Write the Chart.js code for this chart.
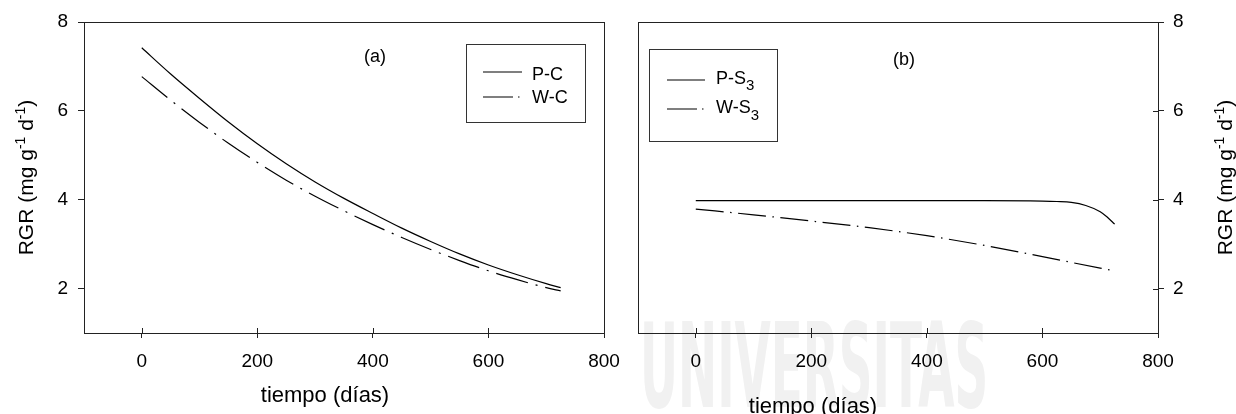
<!DOCTYPE html>
<html>
<head>
<meta charset="utf-8">
<script src="https://cdn.jsdelivr.net/npm/chart.js@4/dist/chart.umd.min.js"></script>
<style>
  html, body { margin: 0; padding: 0; background: #fff; }
  #wrap { position: relative; width: 1236px; height: 414px; overflow: hidden; }
  #mark { position: absolute; left: 640px; top: 308px; font: bold 117px 'DejaVu Sans', sans-serif;
          color: #f1f1f1; transform: scaleX(0.4); transform-origin: 0 0; white-space: nowrap; line-height: 1; }
  canvas { position: absolute; top: 0; }
  #cA { left: 0; }
  #cB { left: 618px; }
</style>
</head>
<body>
<div id="wrap">
  <div id="mark">UNIVERSITAS</div>
  <canvas id="cA" width="640" height="414"></canvas>
  <canvas id="cB" width="618" height="414"></canvas>
</div>
<script>
// Panel (a): control treatments
const daysA = [0, 50, 100, 150, 200, 250, 300, 350, 400, 450, 500, 550, 600, 650, 700, 725];
const rgrPC = [7.42, 6.83, 6.28, 5.75, 5.26, 4.81, 4.40, 4.03, 3.69, 3.36, 3.06, 2.78, 2.53, 2.31, 2.11, 2.02];
const rgrWC = [6.77, 6.24, 5.74, 5.27, 4.84, 4.44, 4.08, 3.75, 3.44, 3.15, 2.88, 2.63, 2.40, 2.20, 2.02, 1.95];

// Panel (b): S3 treatments
const daysPS3 = [0, 100, 200, 300, 400, 500, 600, 625, 650, 675, 700, 712, 725];
const rgrPS3  = [3.98, 3.98, 3.98, 3.98, 3.98, 3.98, 3.97, 3.96, 3.94, 3.87, 3.73, 3.61, 3.45];
const daysWS3 = [0, 100, 200, 300, 400, 500, 600, 700, 725];
const rgrWS3  = [3.79, 3.66, 3.52, 3.37, 3.19, 2.97, 2.72, 2.46, 2.40];

const xTickVals = [0, 200, 400, 600, 800];
const yTickVals = [2, 4, 6, 8];

const FONT = "Arial, 'Liberation Sans', sans-serif";
const AXIS = '#222';
const INK = '#000';
const DASH_A = [33, 8, 2, 8];
const DASH_B = [28, 6.5, 1.5, 6.5];

const pts = (xs, ys) => xs.map((x, i) => ({ x, y: ys[i] }));

function drawRuns(ctx, runs, x0, baseY, center) {
  let w = 0;
  runs.forEach(r => { ctx.font = r.size + 'px ' + FONT; r.w = ctx.measureText(r.t).width; w += r.w; });
  let x = center ? x0 - w / 2 : x0;
  ctx.textAlign = 'left';
  ctx.textBaseline = 'alphabetic';
  runs.forEach(r => { ctx.font = r.size + 'px ' + FONT; ctx.fillText(r.t, x, baseY + (r.dy || 0)); x += r.w; });
}

const yTitleRuns = () => [
  { t: 'RGR (mg g', size: 21 }, { t: '-1', size: 14, dy: -8 },
  { t: ' d', size: 21 }, { t: '-1', size: 14, dy: -8 }, { t: ')', size: 21 }
];

// Frame, inner tick halves, axis titles, panel tag and legend box
const panelDeco = {
  id: 'panelDeco',
  afterDraw(chart, args, o) {
    const ctx = chart.ctx, a = chart.chartArea;
    ctx.save();
    ctx.strokeStyle = AXIS;
    ctx.lineWidth = 1;
    ctx.strokeRect(Math.round(a.left) + 0.5, Math.round(a.top) + 0.5,
                   Math.round(a.right - a.left), Math.round(a.bottom - a.top));
    ctx.beginPath();
    const xs = chart.scales.x, ys = chart.scales.y;
    xs.ticks.forEach(t => {
      const px = Math.round(xs.getPixelForValue(t.value)) + 0.5;
      ctx.moveTo(px, a.bottom); ctx.lineTo(px, a.bottom - 5);
    });
    if (o.innerY) {
      ys.ticks.forEach(t => {
        const py = Math.round(ys.getPixelForValue(t.value)) + 0.5;
        ctx.moveTo(a.right, py); ctx.lineTo(a.right - 5, py);
      });
    }
    ctx.stroke();

    ctx.fillStyle = INK;
    drawRuns(ctx, [{ t: 'tiempo (días)', size: 22 }], o.xTitle.x, o.xTitle.y, true);
    ctx.save();
    ctx.translate(o.yTitle.x, o.yTitle.y);
    ctx.rotate(-Math.PI / 2);
    drawRuns(ctx, yTitleRuns(), 0, 0, true);
    ctx.restore();
    drawRuns(ctx, [{ t: o.tag.text, size: 18 }], o.tag.x, o.tag.y, true);

    const L = o.legend;
    ctx.strokeStyle = '#333';
    ctx.strokeRect(L.l + 0.5, L.t + 0.5, L.r - L.l, L.b - L.t);
    chart.data.datasets.forEach((ds, i) => {
      const e = L.items[i];
      ctx.strokeStyle = INK;
      ctx.lineWidth = 1.2;
      ctx.setLineDash(ds.legendDash || []);
      ctx.beginPath();
      ctx.moveTo(L.x0, e.ly); ctx.lineTo(L.x1, e.ly);
      ctx.stroke();
      ctx.setLineDash([]);
      ctx.fillStyle = INK;
      drawRuns(ctx, e.runs, L.tx, e.by, false);
    });
    ctx.restore();
  }
};

function makeChart(id, datasets, side, decoOpts) {
  const yRight = side === 'right';
  return new Chart(document.getElementById(id), {
    type: 'line',
    data: { datasets },
    options: {
      responsive: false,
      animation: false,
      events: [],
      layout: { padding: yRight ? { left: 20, top: 22, right: 0, bottom: 0 }
                               : { left: 0, top: 22, right: 36, bottom: 0 } },
      elements: { point: { radius: 0 }, line: { borderWidth: 1.2, borderColor: INK, cubicInterpolationMode: 'monotone' } },
      plugins: { legend: { display: false }, tooltip: { enabled: false }, panelDeco: decoOpts },
      scales: {
        x: {
          type: 'linear', position: 'bottom', min: -100, max: 800,
          afterBuildTicks: s => { s.ticks = xTickVals.map(v => ({ value: v })); },
          afterFit: s => { s.height = 81; s.paddingLeft = 0; s.paddingRight = 0; },
          ticks: { color: INK, font: { family: FONT, size: 19 }, padding: 12, maxRotation: 0 },
          grid: { drawOnChartArea: false, drawTicks: true, tickLength: 5, color: AXIS },
          border: { color: AXIS, width: 1 }
        },
        y: {
          type: 'linear', position: side, min: 1, max: 8,
          afterBuildTicks: s => { s.ticks = yTickVals.map(v => ({ value: v })); },
          afterFit: s => { s.width = yRight ? 78 : 84; s.paddingTop = 0; s.paddingBottom = 0; },
          ticks: { color: INK, font: { family: FONT, size: 19 }, padding: yRight ? 9 : 10 },
          grid: { drawOnChartArea: false, drawTicks: true, tickLength: 6, color: AXIS },
          border: { color: AXIS, width: 1 }
        }
      }
    },
    plugins: [panelDeco]
  });
}

makeChart('cA', [
  { label: 'P-C', data: pts(daysA, rgrPC), borderColor: INK, legendDash: [] },
  { label: 'W-C', data: pts(daysA, rgrWC), borderColor: INK, borderDash: DASH_A, legendDash: [30, 5, 1.5, 5] }
], 'left', {
  innerY: false,
  xTitle: { x: 325, y: 402 },
  yTitle: { x: 33, y: 177.5 },
  tag: { text: '(a)', x: 375, y: 62 },
  legend: {
    l: 466, t: 44, r: 585, b: 122, x0: 483, x1: 522, tx: 532,
    items: [
      { ly: 72, by: 80, runs: [{ t: 'P-C', size: 18 }] },
      { ly: 97, by: 103, runs: [{ t: 'W-C', size: 18 }] }
    ]
  }
});

makeChart('cB', [
  { label: 'P-S3', data: pts(daysPS3, rgrPS3), borderColor: INK, legendDash: [] },
  { label: 'W-S3', data: pts(daysWS3, rgrWS3), borderColor: INK, borderDash: DASH_B, legendDash: [30, 5, 1.5, 5] }
], 'right', {
  innerY: true,
  xTitle: { x: 195, y: 413 },
  yTitle: { x: 614, y: 177.5 },
  tag: { text: '(b)', x: 286, y: 65 },
  legend: {
    l: 31, t: 49, r: 159, b: 141, x0: 49, x1: 87, tx: 98,
    items: [
      { ly: 80, by: 83.5, runs: [{ t: 'P-S', size: 18 }, { t: '3', size: 15, dy: 6.5 }] },
      { ly: 109, by: 113, runs: [{ t: 'W-S', size: 18 }, { t: '3', size: 15, dy: 6.5 }] }
    ]
  }
});
</script>
</body>
</html>
